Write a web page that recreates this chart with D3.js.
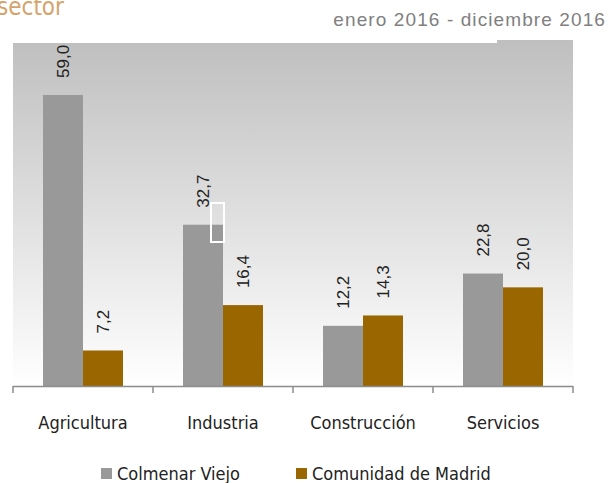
<!DOCTYPE html>
<html>
<head>
<meta charset="utf-8">
<script src="https://cdn.jsdelivr.net/npm/d3@7"></script>
<style>
  body { margin: 0; background: #fff; }
  svg { display: block; }
</style>
</head>
<body>
<div id="app"></div>
<script>
// Data
const categories = ["Agricultura", "Industria", "Construcción", "Servicios"];
const seriesNames = ["Colmenar Viejo", "Comunidad de Madrid"];
const colmenar = [59.0, 32.7, 12.2, 22.8];
const madrid = [7.2, 16.4, 14.3, 20.0];
const seriesColors = ["#999999", "#996600"];

const width = 610;
const height = 483;
const plotLeft = 13, plotRight = 573, plotTop = 40, base = 386;

const fmt = v => d3.format(".1f")(v).replace(".", ",");

const svg = d3.select("#app")
  .append("svg")
  .attr("width", width)
  .attr("height", height);

// Background gradient of the plot panel
const grad = svg.append("defs").append("linearGradient")
  .attr("id", "bg")
  .attr("x1", 0).attr("y1", 0).attr("x2", 0).attr("y2", 1);
grad.append("stop").attr("offset", "0%").attr("stop-color", "#bfbfbf");
grad.append("stop").attr("offset", "100%").attr("stop-color", "#ffffff");

svg.append("rect")
  .attr("x", plotLeft).attr("y", plotTop)
  .attr("width", plotRight - plotLeft).attr("height", base - plotTop)
  .attr("fill", "url(#bg)");
// white box behind the period text
svg.append("rect")
  .attr("x", plotLeft).attr("y", 38)
  .attr("width", 497 - plotLeft).attr("height", 5)
  .attr("fill", "#fff");

// Scales
const x0 = d3.scaleBand().domain(categories).range([plotLeft, plotRight]);
const y = d3.scaleLinear().domain([0, 59]).range([base, 95]);
const barW = 40;

const rows = categories.map((c, i) => ({ cat: c, vals: [colmenar[i], madrid[i]] }));

const groups = svg.selectAll(".grp")
  .data(rows)
  .enter()
  .append("g")
  .attr("transform", d => `translate(${x0(d.cat) + 30},0)`);

groups.selectAll("rect")
  .data(d => d.vals)
  .enter()
  .append("rect")
  .attr("x", (d, j) => j * barW)
  .attr("y", d => y(d))
  .attr("width", barW)
  .attr("height", d => base - y(d))
  .attr("fill", (d, j) => seriesColors[j]);

// Value labels (rotated)
groups.selectAll("text")
  .data(d => d.vals)
  .enter()
  .append("text")
  .attr("transform", (d, j) => `translate(${j * barW + barW / 2},${y(d) - 17}) rotate(-90)`)
  .attr("dy", "0.36em")
  .attr("font-family", "Liberation Sans, Arial, sans-serif")
  .attr("font-size", 17)
  .attr("fill", "#222")
  .text(d => fmt(d));

// Axis
const xAxis = d3.axisBottom(x0).tickSize(0).tickPadding(30);
const ax = svg.append("g")
  .attr("transform", `translate(0,${base})`)
  .call(xAxis);
ax.select(".domain").remove();
ax.selectAll("text")
  .attr("font-family", "Liberation Sans Narrow, DejaVu Sans Condensed, sans-serif")
  .attr("font-size", 18)
  .attr("fill", "#222");

svg.append("line")
  .attr("x1", plotLeft).attr("x2", plotRight)
  .attr("y1", base + 0.5).attr("y2", base + 0.5)
  .attr("stroke", "#8c8c8c").attr("stroke-width", 1.5);

const edges = categories.map(c => x0(c)).concat([plotRight]);
svg.selectAll(".tk")
  .data(edges)
  .enter()
  .append("line")
  .attr("x1", d => d).attr("x2", d => d)
  .attr("y1", base).attr("y2", base + 7)
  .attr("stroke", "#8c8c8c").attr("stroke-width", 1.5);

// Highlight box near Industria
svg.append("rect")
  .attr("x", 211).attr("y", 203)
  .attr("width", 13).attr("height", 39)
  .attr("fill", "none")
  .attr("stroke", "#fff").attr("stroke-width", 2);

// Title and period
svg.append("text")
  .attr("x", -3).attr("y", 15)
  .attr("font-family", "Liberation Sans Narrow, DejaVu Sans Condensed, sans-serif")
  .attr("font-size", 24)
  .attr("fill", "#d4a46c")
  .text("sector");

svg.append("text")
  .attr("x", 606).attr("y", 26)
  .attr("text-anchor", "end")
  .attr("font-family", "Liberation Sans, Arial, sans-serif")
  .attr("font-size", 19)
  .attr("letter-spacing", 1.1)
  .attr("fill", "#808080")
  .text("enero 2016 - diciembre 2016");

// Legend
const legendX = [101, 296];
const lg = svg.selectAll(".lg")
  .data(seriesNames)
  .enter()
  .append("g")
  .attr("transform", (d, i) => `translate(${legendX[i]},468)`);
lg.append("rect")
  .attr("width", 11).attr("height", 11)
  .attr("fill", (d, i) => seriesColors[i]);
lg.append("text")
  .attr("x", 16).attr("y", 12)
  .attr("font-family", "Liberation Sans Narrow, DejaVu Sans Condensed, sans-serif")
  .attr("font-size", 18)
  .attr("fill", "#222")
  .text(d => d);
</script>
</body>
</html>
